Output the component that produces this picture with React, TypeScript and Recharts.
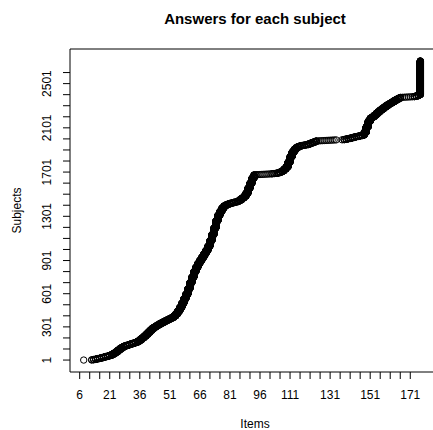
import { ScatterChart, Scatter, XAxis, YAxis, ReferenceArea, Label } from "recharts";

// subjects sorted by number of items answered; counts read per item off the plot
const firstItem = 8;
const subjectsPerItem = [
  1, 0, 0, 0, 2, 3, 4, 4, 4, 5,
  5, 5, 5, 5, 9, 11, 12, 15, 14, 12,
  10, 6, 6, 6, 6, 6, 6, 10, 13, 15,
  15, 17, 18, 18, 17, 13, 12, 10, 11, 9,
  10, 9, 9, 9, 9, 14, 20, 26, 32, 37,
  40, 41, 49, 55, 50, 50, 40, 35, 29, 28,
  30, 30, 38, 50, 55, 60, 65, 50, 35, 30,
  20, 10, 7, 6, 5, 5, 4, 8, 12, 14,
  16, 28, 45, 45, 45, 30, 2, 1, 1, 1,
  1, 1, 1, 1, 2, 2, 2, 5, 7, 10,
  16, 20, 42, 50, 40, 25, 17, 10, 6, 4,
  3, 3, 6, 7, 7, 7, 7, 1, 1, 1,
  1, 1, 1, 1, 1, 1, 1, 0, 0, 1,
  3, 4, 4, 4, 5, 5, 4, 4, 4, 5,
  25, 50, 50, 28, 12, 15, 17, 16, 15, 13,
  14, 13, 12, 10, 11, 12, 10, 10, 8, 1,
  1, 1, 1, 1, 1, 3, 5, 10, 306,
];

const xTicks = [6, 11, 16, 21, 26, 31, 36, 41, 46, 51, 56, 61, 66, 71, 76, 81, 86, 91, 96, 101, 106, 111, 116, 121, 126, 131, 136, 141, 146, 151, 156, 161, 166, 171];
const xLabels = [6, 21, 36, 51, 66, 81, 96, 111, 131, 151, 171];
const yTicks = [1, 101, 201, 301, 401, 501, 601, 701, 801, 901, 1001, 1101, 1201, 1301, 1401, 1501, 1601, 1701, 1801, 1901, 2001, 2101, 2201, 2301, 2401, 2501, 2601];
const yLabels = [1, 301, 601, 901, 1301, 1701, 2101, 2501];

const X_DOMAIN = [1.16, 185.84];
const Y_DOMAIN = [-107, 2814];
const FONT = "'Liberation Sans', Arial, Helvetica, sans-serif";

const points: { x: number; y: number }[] = [];
let subj = 0;
subjectsPerItem.forEach((n, i) => {
  for (let k = 0; k < n; k++) {
    subj += 1;
    points.push({ x: firstItem + i, y: subj });
  }
});

const XTick = ({ x, y, payload }: any) => {
  if (!xLabels.includes(payload.value)) return <g />;
  return (
    <text x={x} y={y + 18} textAnchor="middle" fontSize={12} fontFamily={FONT} fill="#000">
      {payload.value}
    </text>
  );
};

const YTick = ({ x, y, payload }: any) => {
  if (!yLabels.includes(payload.value)) return <g />;
  const tx = x - 10;
  return (
    <text
      x={tx}
      y={y}
      transform={`rotate(-90, ${tx}, ${y})`}
      textAnchor="middle"
      fontSize={12}
      fontFamily={FONT}
      fill="#000"
    >
      {payload.value}
    </text>
  );
};

const OpenCircle = (props: any) => (
  <circle cx={props.cx} cy={props.cy} r={3.2} fill="none" stroke="#000" strokeWidth={1} />
);

export default function App() {
  return (
    <div style={{ position: "absolute", left: 0, top: 0, width: 433, height: 430, overflow: "hidden", background: "#fff" }}>
      <div
        style={{
          position: "absolute",
          left: 70,
          width: 370,
          top: 11,
          lineHeight: "15px",
          textAlign: "center",
          fontFamily: FONT,
          fontWeight: "bold",
          fontSize: 15,
          color: "#000",
        }}
      >
        Answers for each subject
      </div>
      <ScatterChart width={441} height={430} margin={{ top: 49, right: 1, bottom: 0, left: 0 }}>
        <XAxis
          type="number"
          dataKey="x"
          domain={X_DOMAIN}
          allowDataOverflow
          ticks={xTicks}
          interval={0}
          tick={<XTick />}
          tickSize={7}
          tickLine={{ stroke: "#000" }}
          axisLine={false}
          height={58}
          label={
            <Label
              content={({ viewBox }: any) => (
                <text
                  x={viewBox.x + viewBox.width / 2}
                  y={428}
                  textAnchor="middle"
                  fontSize={12}
                  fontFamily={FONT}
                  fill="#000"
                >
                  Items
                </text>
              )}
            />
          }
        />
        <YAxis
          type="number"
          dataKey="y"
          domain={Y_DOMAIN}
          allowDataOverflow
          ticks={yTicks}
          interval={0}
          tick={<YTick />}
          tickSize={7}
          tickLine={{ stroke: "#000" }}
          axisLine={false}
          width={70}
          label={
            <Label
              content={({ viewBox }: any) => {
                const cy = viewBox.y + viewBox.height / 2;
                return (
                  <text
                    x={21}
                    y={cy}
                    transform={`rotate(-90, 21, ${cy})`}
                    textAnchor="middle"
                    fontSize={12}
                    fontFamily={FONT}
                    fill="#000"
                  >
                    Subjects
                  </text>
                );
              }}
            />
          }
        />
        <ReferenceArea
          x1={X_DOMAIN[0]}
          x2={X_DOMAIN[1]}
          y1={Y_DOMAIN[0]}
          y2={Y_DOMAIN[1]}
          fill="none"
          stroke="#000"
          strokeWidth={1}
          ifOverflow="visible"
        />
        <Scatter data={points} dataKey="y" shape={OpenCircle} isAnimationActive={false} />
      </ScatterChart>
    </div>
  );
}
